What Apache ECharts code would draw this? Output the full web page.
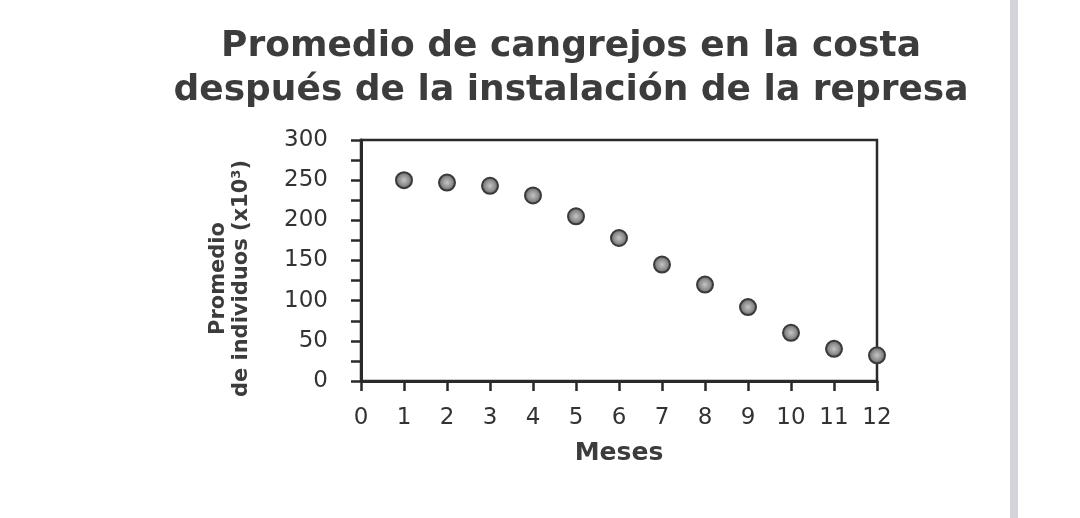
<!DOCTYPE html>
<html>
<head>
<meta charset="utf-8">
<script src="https://cdn.jsdelivr.net/npm/echarts@6/dist/echarts.min.js"></script>
<style>
  html, body { margin: 0; padding: 0; background: #ffffff; }
  #chart { width: 1080px; height: 518px; }
</style>
</head>
<body>
<div id="chart"></div>
<script>
// ---- data ----
var months = [1, 2, 3, 4, 5, 6, 7, 8, 9, 10, 11, 12];
var crabs = [250, 247, 243, 231, 205, 178, 145, 120, 92, 60, 40, 32];
var titleText = 'Promedio de cangrejos en la costa\ndespués de la instalación de la represa';
var xName = 'Meses';
var yName = 'Promedio\nde individuos (x10³)';

var points = months.map(function (m, i) { return [m, crabs[i]]; });

var chart = echarts.init(document.getElementById('chart'));
var ink = '#333333';
chart.setOption({
  backgroundColor: '#ffffff',
  animation: false,
  graphic: [{
    type: 'rect',
    z: -10,
    shape: { x: 1010, y: 0, width: 8, height: 518 },
    style: { fill: '#d4d3da' }
  }],
  title: {
    text: titleText,
    left: 566,
    top: 20,
    textAlign: 'center',
    textStyle: {
      fontFamily: 'DejaVu Sans',
      fontWeight: 'bold',
      fontSize: 36,
      lineHeight: 44,
      color: '#3c3c3c'
    }
  },
  grid: {
    left: 361,
    right: 203,
    top: 140,
    bottom: 137,
    show: true,
    borderColor: '#2a2a2a',
    borderWidth: 2.5,
    backgroundColor: 'transparent'
  },
  xAxis: {
    type: 'value',
    min: 0,
    max: 12,
    interval: 1,
    name: xName,
    nameLocation: 'middle',
    nameGap: 60,
    nameTextStyle: {
      fontFamily: 'DejaVu Sans',
      fontWeight: 'bold',
      fontSize: 25,
      color: '#3c3c3c'
    },
    axisLine: { show: true, lineStyle: { color: '#2a2a2a', width: 3 } },
    axisTick: { show: true, inside: false, length: 10, lineStyle: { color: '#2a2a2a', width: 2.5 } },
    axisLabel: {
      margin: 26,
      fontFamily: 'DejaVu Sans',
      fontSize: 23,
      color: ink
    },
    splitLine: { show: false }
  },
  yAxis: {
    type: 'value',
    min: 0,
    max: 300,
    interval: 50,
    name: yName,
    nameLocation: 'middle',
    nameRotate: 90,
    nameGap: 108,
    nameTextStyle: {
      fontFamily: 'DejaVu Sans',
      fontWeight: 'bold',
      fontSize: 21,
      lineHeight: 23,
      color: '#3c3c3c',
      padding: [0, 36, 0, 0]
    },
    axisLine: { show: true, lineStyle: { color: '#2a2a2a', width: 3 } },
    axisTick: { show: true, inside: false, length: 10, lineStyle: { color: '#2a2a2a', width: 2.5 } },
    minorTick: { show: true, splitNumber: 2, length: 10, lineStyle: { color: '#2a2a2a', width: 2.5 } },
    axisLabel: {
      margin: 33,
      fontFamily: 'DejaVu Sans',
      fontSize: 23,
      color: ink
    },
    splitLine: { show: false },
    minorSplitLine: { show: false }
  },
  series: [{
    type: 'scatter',
    data: points,
    symbol: 'circle',
    symbolSize: 16,
    clip: false,
    itemStyle: {
      color: new echarts.graphic.RadialGradient(0.5, 0.5, 0.5, [
        { offset: 0, color: '#c4c4c4' },
        { offset: 0.6, color: '#8c8c8c' },
        { offset: 1, color: '#555555' }
      ]),
      borderColor: '#3a3a3a',
      borderWidth: 2,
      opacity: 1
    }
  }]
});
</script>
</body>
</html>
